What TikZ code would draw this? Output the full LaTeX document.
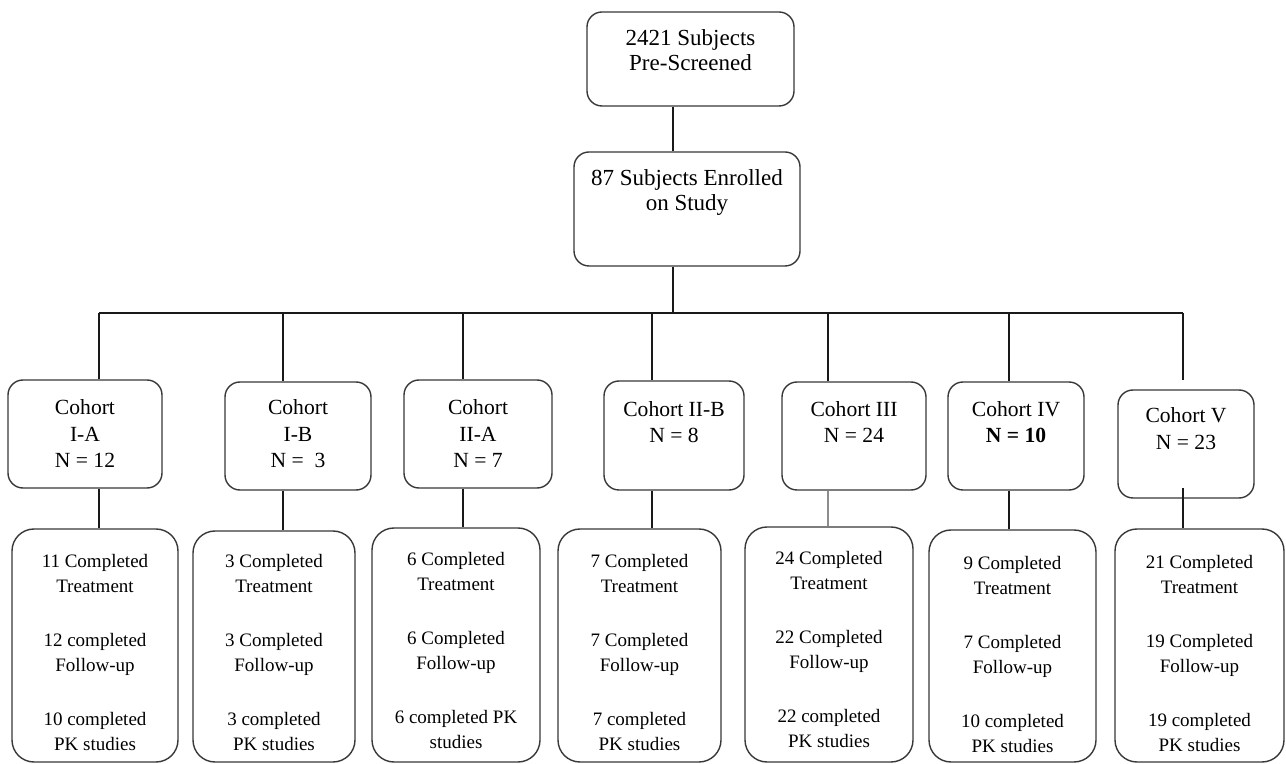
\documentclass[tikz,border=0pt]{standalone}
\usepackage{fontspec}
\setmainfont{Liberation Serif}
\newcommand\bxt[4]{\parbox[c][#2][t]{#1}{\centering\vspace*{#3}#4}}
\newcommand\outc[6]{#1\\#2\\[14.5pt]#3\\#4\\[14.5pt]#5\\#6}
\tikzset{
  box/.style={draw=black!78, line width=0.7pt, rounded corners=7.5pt, inner sep=0pt},
  topbox/.style={box, font={\fontsize{11.5}{12.5}\selectfont}},
  cohbox/.style={box, font={\fontsize{10.8}{13.2}\selectfont}},
  outbox/.style={box, rounded corners=11pt, font={\fontsize{9.5}{12.5}\selectfont}},
  conn/.style={draw=black!90, line width=0.6pt},
  conngray/.style={draw=black!45, line width=0.7pt}
}
\begin{document}
\begin{tikzpicture}[x=0.5pt, y=-0.5pt]
\useasboundingbox (0,0) rectangle (1286,764);
% top boxes
\node[topbox] (top) at (690.5,59) {\bxt{103.5pt}{47pt}{9pt}{2421 Subjects\\Pre-Screened}};
\node[topbox] (enr) at (687,209) {\bxt{113pt}{57pt}{9pt}{87 Subjects Enrolled\\on Study}};
% cohort boxes
\node[cohbox] (cA) at (85,434)   {\bxt{77pt}{54pt}{10pt}{Cohort\\I-A\\N = 12}};
\node[cohbox] (cB) at (298,436)  {\bxt{73pt}{54pt}{9pt}{Cohort\\I-B\\N = \ 3}};
\node[cohbox] (cC) at (478,434)  {\bxt{74pt}{54pt}{10pt}{Cohort\\II-A\\N = 7}};
\node[cohbox] (cD) at (674,435.5){\bxt{70pt}{54.5pt}{10.2pt}{Cohort II-B\\N = 8}};
\node[cohbox] (cE) at (854,436)  {\bxt{72pt}{54pt}{9.8pt}{Cohort III\\N = 24}};
\node[cohbox] (cF) at (1016,436) {\bxt{68pt}{54pt}{9.8pt}{Cohort IV\\\textbf{N = 10}}};
\node[cohbox] (cG) at (1186,444) {\bxt{68pt}{54pt}{9pt}{Cohort V\\N = 23}};
% outcome boxes
\node[outbox] (oA) at (95,645.5)    {\bxt{83pt}{116.5pt}{12.5pt}{\outc{11 Completed}{Treatment}{12 completed}{Follow-up}{10 completed}{PK studies}}};
\node[outbox] (oB) at (274,646.5)   {\bxt{81pt}{115.5pt}{11.5pt}{\outc{3 Completed}{Treatment}{3 Completed}{Follow-up}{3 completed}{PK studies}}};
\node[outbox] (oC) at (456,645)     {\bxt{84pt}{117pt}{12.3pt}{\outc{6 Completed}{Treatment}{6 Completed}{Follow-up}{6 completed PK}{studies}}};
\node[outbox] (oD) at (639.5,645.5) {\bxt{81.5pt}{116.5pt}{12.5pt}{\outc{7 Completed}{Treatment}{7 Completed}{Follow-up}{7 completed}{PK studies}}};
\node[outbox] (oE) at (829,644.5)   {\bxt{84pt}{117.5pt}{12pt}{\outc{24 Completed}{Treatment}{22 Completed}{Follow-up}{22 completed}{PK studies}}};
\node[outbox] (oF) at (1012.5,646)  {\bxt{83.5pt}{116pt}{13pt}{\outc{9 Completed}{Treatment}{7 Completed}{Follow-up}{10 completed}{PK studies}}};
\node[outbox] (oG) at (1199.5,645.5){\bxt{84.5pt}{116.5pt}{13pt}{\outc{21 Completed}{Treatment}{19 Completed}{Follow-up}{19 completed}{PK studies}}};
% junction coordinates
\coordinate (jt) at (673,313);
\coordinate (d1) at (99,313);
\coordinate (d2) at (283,313);
\coordinate (d3) at (463,313);
\coordinate (d4) at (652,313);
\coordinate (d5) at (828,313);
\coordinate (d6) at (1009,313);
\coordinate (d7) at (1183,313);
\coordinate (e7) at (1183,380);
\coordinate (s7) at (1183,488);
% connectors
\draw[conn] (top.south -| jt) -- (enr.north -| jt);
\draw[conn] (enr.south -| jt) -- (jt);
\draw[conn] (d1) -- (d7);
\draw[conn] (d1) -- (cA.north -| d1);
\draw[conn] (d2) -- (cB.north -| d2);
\draw[conn] (d3) -- (cC.north -| d3);
\draw[conn] (d4) -- (cD.north -| d4);
\draw[conn] (d5) -- (cE.north -| d5);
\draw[conn] (d6) -- (cF.north -| d6);
\draw[conn] (d7) -- (e7);
\draw[conn] (cA.south -| d1) -- (oA.north -| d1);
\draw[conn] (cB.south -| d2) -- (oB.north -| d2);
\draw[conn] (cC.south -| d3) -- (oC.north -| d3);
\draw[conn] (cD.south -| d4) -- (oD.north -| d4);
\draw[conngray] (cE.south -| d5) -- (oE.north -| d5);
\draw[conn] (cF.south -| d6) -- (oF.north -| d6);
\draw[conn] (s7) -- (oG.north -| s7);
\end{tikzpicture}
\end{document}
